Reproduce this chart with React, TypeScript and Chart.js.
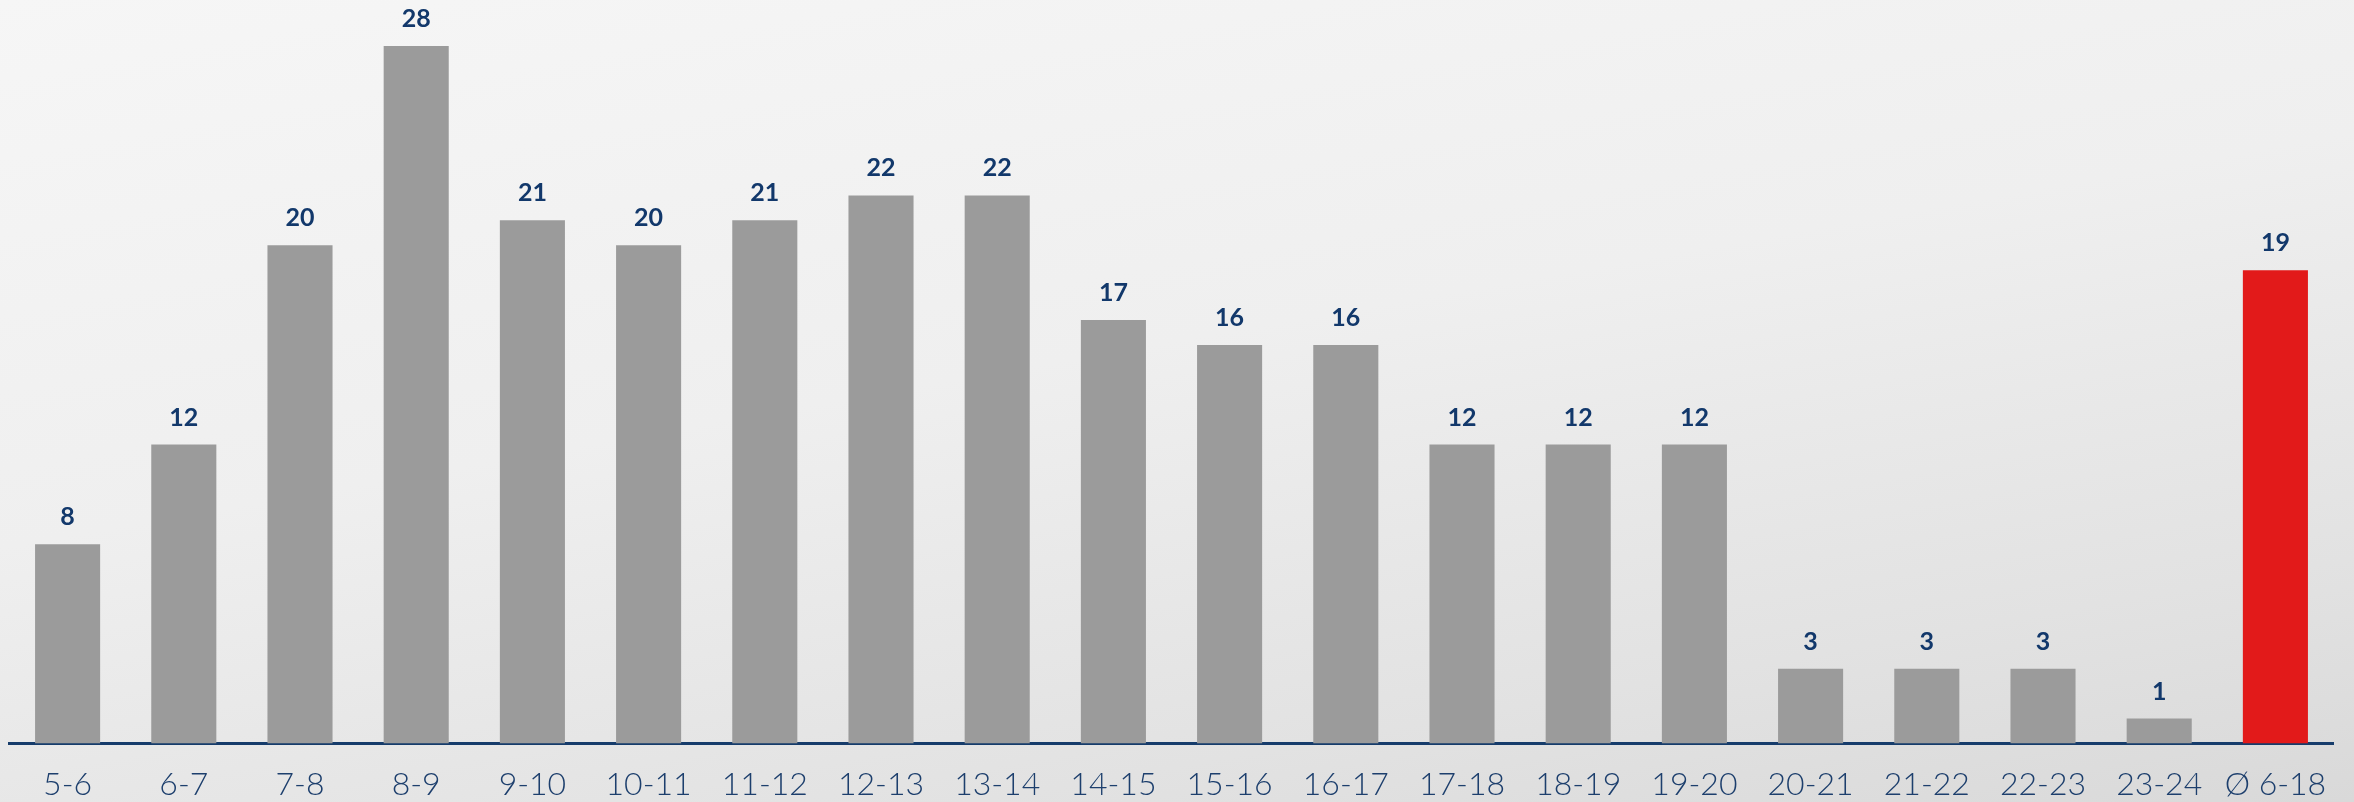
import React, { useEffect, useRef } from "react";
import { Chart, registerables } from "chart.js";

Chart.register(...registerables);

const categories: string[] = [
  "5-6", "6-7", "7-8", "8-9", "9-10", "10-11", "11-12", "12-13", "13-14", "14-15",
  "15-16", "16-17", "17-18", "18-19", "19-20", "20-21", "21-22", "22-23", "23-24", "Ø 6-18",
];
const values: number[] = [8, 12, 20, 28, 21, 20, 21, 22, 22, 17, 16, 16, 12, 12, 12, 3, 3, 3, 1, 19];
const highlightLabel = "Ø 6-18";

const GRAY = "#9b9b9b";
const RED = "#e21a1a";
const NAVY = "#12386b";

const valueLabels = {
  id: "valueLabels",
  afterDatasetsDraw(chart: any) {
    const ctx = chart.ctx;
    const meta = chart.getDatasetMeta(0);
    ctx.save();
    ctx.font = "bold 25px Lato";
    ctx.fillStyle = NAVY;
    ctx.textAlign = "center";
    ctx.textBaseline = "middle";
    meta.data.forEach((bar: any, i: number) => {
      ctx.fillText(String(chart.data.datasets[0].data[i]), bar.x, bar.y - 27);
    });
    ctx.restore();
  },
};

export default function App() {
  const ref = useRef<HTMLCanvasElement | null>(null);
  useEffect(() => {
    if (!ref.current) return;
    const chart = new Chart(ref.current, {
      type: "bar",
      data: {
        labels: categories,
        datasets: [
          {
            data: values,
            backgroundColor: categories.map((c) => (c === highlightLabel ? RED : GRAY)),
            borderWidth: 0,
            categoryPercentage: 1,
            barPercentage: 0.56,
          },
        ],
      },
      options: {
        responsive: false,
        animation: false,
        layout: { padding: { top: 21, left: 9.5, right: 20.5, bottom: 0 } },
        plugins: { legend: { display: false }, tooltip: { enabled: false } },
        scales: {
          x: {
            grid: { display: false, drawTicks: false },
            border: { display: true, color: "#163c6b", width: 3 },
            ticks: {
              color: "#1d3f6d",
              font: { family: "Lato", size: 32, weight: "300" as any },
              padding: 22,
              maxRotation: 0,
              autoSkip: false,
            },
            afterFit: (axis: any) => {
              axis.height = 58.5;
            },
          },
          y: {
            display: false,
            min: 0,
            max: 29,
          },
        },
      },
      plugins: [valueLabels],
    });
    return () => chart.destroy();
  }, []);
  return (
    <div
      style={{
        position: "absolute",
        left: 0,
        top: 0,
        width: 2354,
        height: 802,
        background: "linear-gradient(170deg, #f6f6f6 0%, #efefef 45%, #e2e2e2 80%, #d9d9d9 100%)",
      }}
    >
      <canvas ref={ref} width={2354} height={802} style={{ display: "block" }} />
    </div>
  );
}
